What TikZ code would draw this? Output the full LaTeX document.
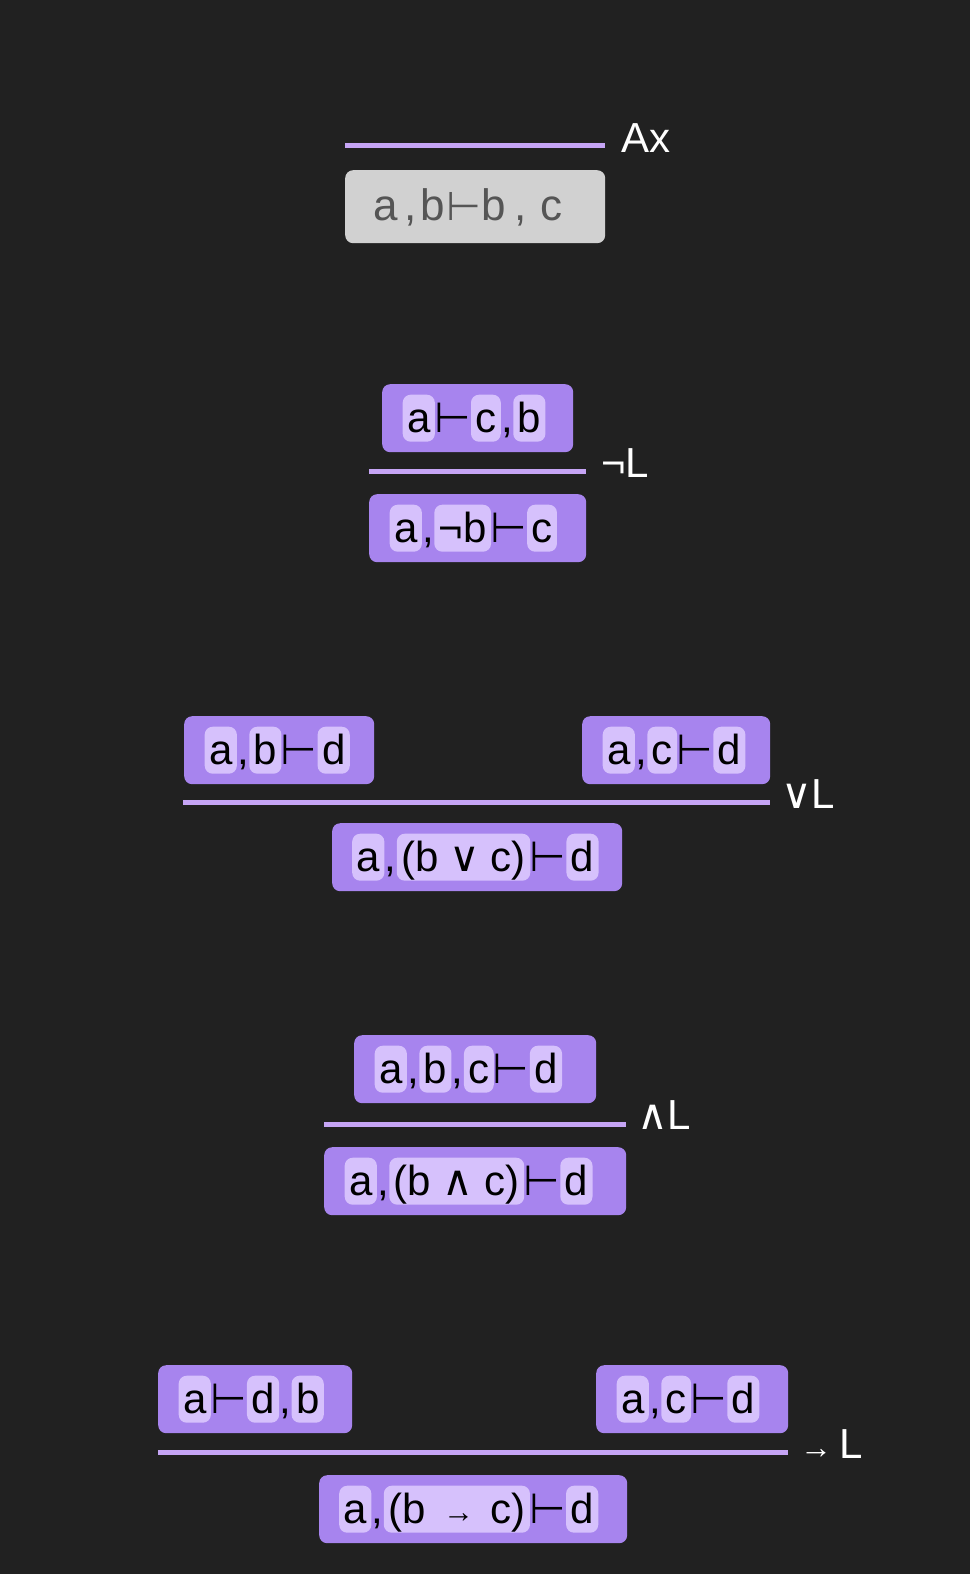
\documentclass[tikz,border=0pt]{standalone}
\usepackage{fontspec}
\setmainfont{Liberation Sans}
\newfontfamily\dvfont{DejaVu Sans}
\usetikzlibrary{positioning}
\definecolor{bgc}{HTML}{212121}
\definecolor{boxc}{HTML}{A784EE}
\definecolor{chipc}{HTML}{D6C1FC}
\definecolor{rulec}{HTML}{C6A5F5}
\definecolor{grayc}{HTML}{D1D1D1}
\definecolor{graytxt}{HTML}{555555}
\newcommand{\turnst}{\hspace{-1.25pt}{\dvfont ⊢}\hspace{-1.25pt}}
\newcommand{\grayturn}{{\dvfont\fontsize{40}{42}\selectfont ⊢}}
\newcommand{\chiparr}{{\fontsize{31}{33}\selectfont →}}
\newcommand{\lblarr}{{\fontsize{32}{34}\selectfont →}}
\newcommand{\chipor}{{\dvfont ∨}}
\newcommand{\chipand}{{\dvfont ∧}}
\begin{document}
\begin{tikzpicture}[x=1pt,y=-1pt,
  seqbox/.style={fill=boxc, rounded corners=8pt, inner sep=0pt, minimum height=68pt, anchor=north west},
  graybox/.style={fill=grayc, rounded corners=8pt, inner sep=0pt, minimum height=73pt, minimum width=260pt, anchor=north west},
  chip/.style={fill=chipc, rounded corners=8pt, inner xsep=4.4pt, inner ysep=0pt, text height=38pt, text depth=9pt, font=\fontsize{42}{44}\selectfont, text=black},
  sepn/.style={chip, fill=none, inner xsep=0pt},
  gtxt/.style={text=graytxt, font=\fontsize{44}{46}\selectfont, inner sep=0pt, anchor=base west},
  rulebar/.style={draw=rulec, line width=5pt},
  lbl/.style={text=white, font=\fontsize{42}{44}\selectfont, inner sep=0pt, anchor=base west}]
\fill[bgc] (0,0) rectangle (970,1574);
\useasboundingbox (0,0) rectangle (970,1574);

% ---------- Ax ----------
\coordinate (r1a) at (345,145.5);
\coordinate (r1b) at (605,145.5);
\draw[rulebar] (r1a) -- (r1b);
\node[lbl] (lab1) at (621,152) {Ax};
\node[graybox] (n1) at (345,170) {};
\node[gtxt] (g1) at (373.4,220) {a};
\node[gtxt] (g2) at (404.2,220) {,};
\node[gtxt] (g3) at (420.1,220) {b};
\node[gtxt] (g4) at (446.5,220) {\grayturn};
\node[gtxt] (g5) at (481,220) {b};
\node[gtxt] (g6) at (514.2,220) {,};
\node[gtxt] (g7) at (540.2,220) {c};

% ---------- neg L ----------
\node[seqbox, minimum width=191pt] (n2top) at (382,384) {};
\node[chip, anchor=north west] (n2t1) at ([shift={(20.5,10.5)}]n2top.north west) {a};
\node[sepn, right=0pt of n2t1] (n2t2) {\turnst};
\node[chip, right=0pt of n2t2] (n2t3) {c};
\node[sepn, right=0pt of n2t3] (n2t4) {,};
\node[chip, right=0pt of n2t4] (n2t5) {b};
\coordinate (r2a) at (369,471.5);
\coordinate (r2b) at (586,471.5);
\draw[rulebar] (r2a) -- (r2b);
\node[lbl] (lab2) at (601,477) {¬L};
\node[seqbox, minimum width=217pt] (n2bot) at (369,494) {};
\node[chip, anchor=north west] (n2b1) at ([shift={(20.5,10.5)}]n2bot.north west) {a};
\node[sepn, right=0pt of n2b1] (n2b2) {,};
\node[chip, right=0pt of n2b2] (n2b3) {¬b};
\node[sepn, right=0pt of n2b3] (n2b4) {\turnst};
\node[chip, right=0pt of n2b4] (n2b5) {c};

% ---------- or L ----------
\node[seqbox, minimum width=190pt] (n3l) at (184,716) {};
\node[chip, anchor=north west] (n3l1) at ([shift={(20.5,10.5)}]n3l.north west) {a};
\node[sepn, right=0pt of n3l1] (n3l2) {,};
\node[chip, right=0pt of n3l2] (n3l3) {b};
\node[sepn, right=0pt of n3l3] (n3l4) {\turnst};
\node[chip, right=0pt of n3l4] (n3l5) {d};
\node[seqbox, minimum width=188pt] (n3r) at (582,716) {};
\node[chip, anchor=north west] (n3r1) at ([shift={(20.5,10.5)}]n3r.north west) {a};
\node[sepn, right=0pt of n3r1] (n3r2) {,};
\node[chip, right=0pt of n3r2] (n3r3) {c};
\node[sepn, right=0pt of n3r3] (n3r4) {\turnst};
\node[chip, right=0pt of n3r4] (n3r5) {d};
\coordinate (r3a) at (183,802);
\coordinate (r3b) at (770,802);
\draw[rulebar] (r3a) -- (r3b);
\node[lbl] (lab3) at (781,808) {{\dvfont ∨}L};
\node[seqbox, minimum width=290pt] (n3b) at (332,823) {};
\node[chip, anchor=north west] (n3b1) at ([shift={(20,10.5)}]n3b.north west) {a};
\node[sepn, right=0pt of n3b1] (n3b2) {,};
\node[chip, right=0pt of n3b2] (n3b3) {(b\hspace{10.8pt}\chipor\hspace{10.8pt}c)};
\node[sepn, right=0pt of n3b3] (n3b4) {\turnst};
\node[chip, right=0pt of n3b4] (n3b5) {d};

% ---------- and L ----------
\node[seqbox, minimum width=242pt] (n4t) at (354,1035) {};
\node[chip, anchor=north west] (n4t1) at ([shift={(20.5,10.5)}]n4t.north west) {a};
\node[sepn, right=0pt of n4t1] (n4t2) {,};
\node[chip, right=0pt of n4t2] (n4t3) {b};
\node[sepn, right=0pt of n4t3] (n4t4) {,};
\node[chip, right=0pt of n4t4] (n4t5) {c};
\node[sepn, right=0pt of n4t5] (n4t6) {\turnst};
\node[chip, right=0pt of n4t6] (n4t7) {d};
\coordinate (r4a) at (324,1124);
\coordinate (r4b) at (626,1124);
\draw[rulebar] (r4a) -- (r4b);
\node[lbl] (lab4) at (637,1129) {{\dvfont ∧}L};
\node[seqbox, minimum width=302pt] (n4b) at (324,1147) {};
\node[chip, anchor=north west] (n4b1) at ([shift={(20.5,10.5)}]n4b.north west) {a};
\node[sepn, right=0pt of n4b1] (n4b2) {,};
\node[chip, right=0pt of n4b2] (n4b3) {(b\hspace{11.5pt}\chipand\hspace{11.5pt}c)};
\node[sepn, right=0pt of n4b3] (n4b4) {\turnst};
\node[chip, right=0pt of n4b4] (n4b5) {d};

% ---------- imp L ----------
\node[seqbox, minimum width=194pt] (n5l) at (158,1365) {};
\node[chip, anchor=north west] (n5l1) at ([shift={(20.5,10.5)}]n5l.north west) {a};
\node[sepn, right=0pt of n5l1] (n5l2) {\turnst};
\node[chip, right=0pt of n5l2] (n5l3) {d};
\node[sepn, right=0pt of n5l3] (n5l4) {,};
\node[chip, right=0pt of n5l4] (n5l5) {b};
\node[seqbox, minimum width=192pt] (n5r) at (596,1365) {};
\node[chip, anchor=north west] (n5r1) at ([shift={(20.5,10.5)}]n5r.north west) {a};
\node[sepn, right=0pt of n5r1] (n5r2) {,};
\node[chip, right=0pt of n5r2] (n5r3) {c};
\node[sepn, right=0pt of n5r3] (n5r4) {\turnst};
\node[chip, right=0pt of n5r4] (n5r5) {d};
\coordinate (r5a) at (158,1452);
\coordinate (r5b) at (788,1452);
\draw[rulebar] (r5a) -- (r5b);
\node[lbl] (lab5) at (800,1458) {\lblarr\hspace{7pt}L};
\node[seqbox, minimum width=308pt] (n5b) at (319,1475) {};
\node[chip, anchor=north west] (n5b1) at ([shift={(20,10.5)}]n5b.north west) {a};
\node[sepn, right=0pt of n5b1] (n5b2) {,};
\node[chip, right=0pt of n5b2] (n5b3) {(b\hspace{17.5pt}\raisebox{1pt}{\chiparr}\hspace{16.5pt}c)};
\node[sepn, right=0pt of n5b3] (n5b4) {\turnst};
\node[chip, right=0pt of n5b4] (n5b5) {d};
\end{tikzpicture}
\end{document}
